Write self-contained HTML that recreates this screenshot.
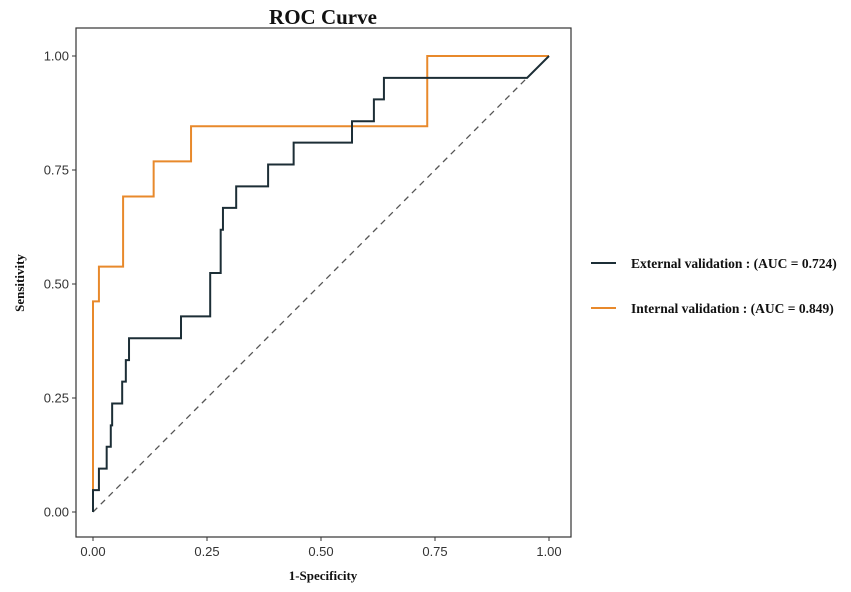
<!DOCTYPE html>
<html><head><meta charset="utf-8"><style>
body{margin:0;background:#fff;}
svg{display:block;}
.tk{font-family:"Liberation Sans",sans-serif;font-size:13px;fill:#333;}
.b{font-family:"Liberation Serif",serif;font-weight:bold;fill:#111;}
</style></head><body>
<svg id="chart" width="851" height="592">
<rect x="76" y="28" width="495" height="509" fill="none" stroke="#333" stroke-width="1.2"/>
<text x="323" y="24" text-anchor="middle" class="b" font-size="21">ROC Curve</text>
<text x="323" y="580" text-anchor="middle" class="b" font-size="13">1-Specificity</text>
<text transform="translate(24,283) rotate(-90)" text-anchor="middle" class="b" font-size="13">Sensitivity</text>
<g id="axes"></g>
<line x1="93" y1="512" x2="549" y2="56" stroke="#555" stroke-width="1.3" stroke-dasharray="6,5"/>
<g id="lines"></g>
<g>
<line x1="591" y1="263" x2="616" y2="263" stroke="#1c2e36" stroke-width="2"/>
<text x="631" y="268" class="b" font-size="13.5">External validation : (AUC = 0.724)</text>
<line x1="591" y1="308" x2="616" y2="308" stroke="#e8892b" stroke-width="2"/>
<text x="631" y="313" class="b" font-size="13.5">Internal validation : (AUC = 0.849)</text>
</g>
</svg>
<script>
const ticks=[0,0.25,0.5,0.75,1];
const tickLabels=["0.00","0.25","0.50","0.75","1.00"];
const extFpr=[0,0,0.013,0.013,0.03,0.03,0.039,0.039,0.042,0.042,0.064,0.064,0.072,0.072,0.079,0.079,0.193,0.193,0.257,0.257,0.28,0.28,0.285,0.285,0.314,0.314,0.384,0.384,0.44,0.44,0.568,0.568,0.616,0.616,0.638,0.638,0.952,1];
const extTpr=[0,0.048,0.048,0.095,0.095,0.143,0.143,0.190,0.190,0.238,0.238,0.286,0.286,0.333,0.333,0.381,0.381,0.429,0.429,0.524,0.524,0.619,0.619,0.667,0.667,0.714,0.714,0.762,0.762,0.810,0.810,0.857,0.857,0.905,0.905,0.952,0.952,1];
const intFpr=[0,0,0.013,0.013,0.066,0.066,0.133,0.133,0.215,0.215,0.733,0.733,1];
const intTpr=[0,0.462,0.462,0.538,0.538,0.692,0.692,0.769,0.769,0.846,0.846,1,1];
const sx=v=>93+v*456, sy=v=>512-v*456;
const NS="http://www.w3.org/2000/svg";
const ax=document.getElementById('axes');
ticks.forEach((t,i)=>{
 let l=document.createElementNS(NS,'line');l.setAttribute('x1',sx(t));l.setAttribute('x2',sx(t));l.setAttribute('y1',537);l.setAttribute('y2',541);l.setAttribute('stroke','#333');
 
 ax.appendChild(l);
 let tx=document.createElementNS(NS,'text');tx.setAttribute('x',sx(t));tx.setAttribute('y',556);tx.setAttribute('text-anchor','middle');tx.setAttribute('class','tk');tx.textContent=tickLabels[i];
 
 ax.appendChild(tx);
 let l2=document.createElementNS(NS,'line');l2.setAttribute('x1',72);l2.setAttribute('x2',76);l2.setAttribute('y1',sy(t));l2.setAttribute('y2',sy(t));l2.setAttribute('stroke','#333');
 
 ax.appendChild(l2);
 let ty=document.createElementNS(NS,'text');ty.setAttribute('x',69);ty.setAttribute('y',sy(t)+4.5);ty.setAttribute('text-anchor','end');ty.setAttribute('class','tk');ty.textContent=tickLabels[i];
 
 ax.appendChild(ty);
});
const lg=document.getElementById('lines');
function draw(xs,ys,c,name){
 let p=document.createElementNS(NS,'polyline');
 p.setAttribute('points',xs.map((x,i)=>sx(x)+','+sy(ys[i])).join(' '));
 p.setAttribute('fill','none');p.setAttribute('stroke',c);p.setAttribute('stroke-width','2');
 
 
 lg.appendChild(p);
}
draw(intFpr,intTpr,'#e8892b','internal-roc-line');
draw(extFpr,extTpr,'#1c2e36','external-roc-line');
</script>
</body></html>
